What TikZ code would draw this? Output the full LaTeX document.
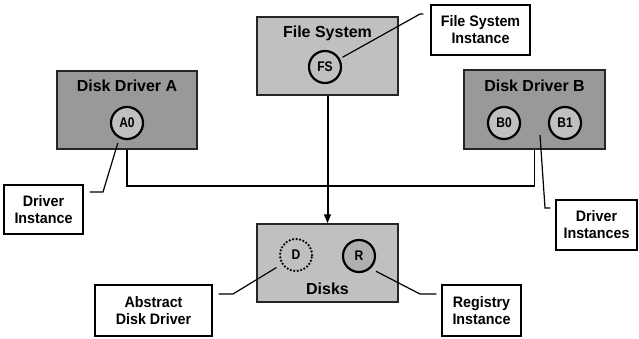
\documentclass[tikz,border=0pt]{standalone}
\usepackage{fontspec}
\setmainfont{Liberation Sans}
\newfontfamily\lblfam[FakeStretch=0.94]{Liberation Sans}
\newfontfamily\instfam[FakeStretch=0.86]{Liberation Sans}
\usetikzlibrary{arrows.meta,shadows,calc}
\definecolor{darkfill}{HTML}{999999}
\definecolor{lightfill}{HTML}{C0C0C0}
\definecolor{rfill}{HTML}{B0B0B0}
\newcommand\ttlfont{\fontsize{16}{19}\selectfont\bfseries}
\newcommand\lblfont{\lblfam\fontsize{15.2}{17}\selectfont\bfseries}
\newcommand\instfont{\instfam\fontsize{14}{15}\selectfont\bfseries}
\begin{document}
\begin{tikzpicture}[x=1pt,y=-1pt,
  dbox/.style={draw=black!85, line width=1.2pt, fill=#1, inner sep=0pt},
  ttl/.style={font=\ttlfont, inner sep=0pt, anchor=base},
  inst/.style={circle, draw=black, line width=2.2pt, fill=#1, minimum size=32pt, inner sep=0pt, font=\instfont},
  abstr/.style={circle, draw=black, line width=2.5pt, dash pattern=on 0pt off 3.5pt, line cap=round, fill=lightfill, minimum size=32pt, inner sep=0pt, font=\instfont},
  lbl/.style={draw=black, line width=1.2pt, fill=white, align=center, font=\lblfont, inner sep=0pt,
    general shadow={fill=black, shadow xshift=1pt, shadow yshift=-1pt}},
  leader/.style={draw=black, line width=1.2pt},
  conn/.style={draw=black, line width=1.5pt},
  arr/.style={draw=black, line width=2pt, -{Triangle[length=9pt,width=6.5pt]}}
]
\useasboundingbox (0,0) rectangle (639,338);

% boxes
\node[dbox=darkfill, minimum width=140pt, minimum height=78pt] (ddA) at (127,110) {};
\node[dbox=lightfill, minimum width=141pt, minimum height=78pt] (fs) at (327.5,56) {};
\node[dbox=darkfill, minimum width=141pt, minimum height=79pt] (ddB) at (534.5,109.5) {};
\node[dbox=lightfill, minimum width=141pt, minimum height=78pt] (disks) at (327.5,263) {};

% titles
\node[ttl] (tA) at (127,91) {Disk Driver A};
\node[ttl] (tFS) at (327.5,37) {File System};
\node[ttl] (tB) at (534.5,91) {Disk Driver B};
\node[ttl] (tD) at (327.5,294) {Disks};

% instances
\node[inst=lightfill] (A0) at (127,123) {A0};
\node[inst=lightfill] (FS) at (325,67) {FS};
\node[inst=lightfill] (B0) at (504,123) {B0};
\node[inst=lightfill] (B1) at (565,123) {B1};
\node[abstr] (D) at (296,255) {D};
\node[inst=rfill] (R) at (359,256) {R};

% labels
\node[lbl, minimum width=99pt, minimum height=50pt] (fsi) at (480.5,30) {File System\\Instance};
\node[lbl, minimum width=79pt, minimum height=49pt] (drvI) at (43.5,209.5) {Driver\\Instance};
\node[lbl, minimum width=81pt, minimum height=50pt] (drvIs) at (596.5,225) {Driver\\Instances};
\node[lbl, minimum width=117pt, minimum height=51pt] (abs) at (153.5,310.5) {Abstract\\Disk Driver};
\node[lbl, minimum width=79pt, minimum height=51pt] (reg) at (481.5,310.5) {Registry\\Instance};

% connections
\coordinate (bus) at (0,186);
\draw[conn] (ddA.south -| A0) -- (A0 |- bus) -| (ddB.south);
\draw[arr] (fs.south) -- (disks.north);

% leaders
\coordinate (fsb) at (420,14);
\draw[leader, shorten <=3pt, shorten >=7pt] (FS.29) -- (fsb) -- (fsi.west |- fsb);
\coordinate (ab) at (103,192);
\draw[leader, shorten <=5pt, shorten >=6pt] (A0.243) -- (ab) -- (drvI.east |- ab);
\coordinate (bs) at (540,135);
\coordinate (bb) at (545,208);
\draw[leader, shorten >=5pt] (bs) -- (bb) -- (drvIs.west |- bb);
\coordinate (db) at (233,294);
\draw[leader, shorten <=6pt, shorten >=6pt] (D.213) -- (db) -- (abs.east |- db);
\coordinate (rb) at (420,294);
\draw[leader, shorten <=6pt, shorten >=5pt] (R.313) -- (rb) -- (reg.west |- rb);
\end{tikzpicture}
\end{document}
